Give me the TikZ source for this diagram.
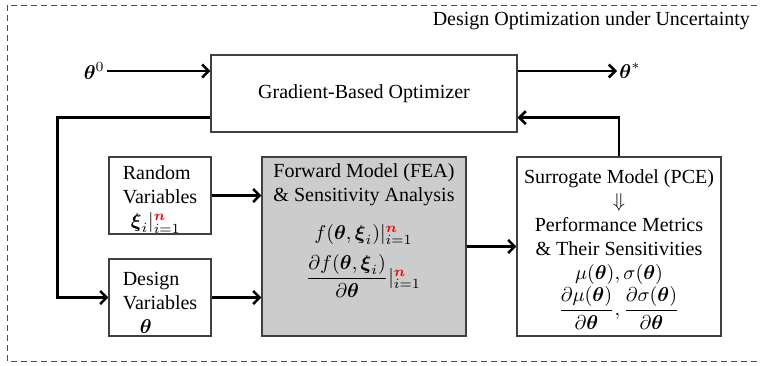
\documentclass[tikz,border=0pt]{standalone}
\usepackage{amsmath}
\usepackage[no-math]{fontspec}
\setmainfont{Liberation Serif}
\usetikzlibrary{positioning, arrows.meta}

\definecolor{fwdgray}{RGB}{204,204,204}
\newcommand{\bth}{\boldsymbol{\theta}}
\newcommand{\rn}{{\color{red}\boldsymbol{n}}}

\begin{document}
\begin{tikzpicture}[
            x = 0.5pt, y = -0.5pt,
            > = {Straight Barb[length=3.2pt, width=6.5pt]},
            on grid,
            block/.style = {draw=black!75, line width=0.6pt, minimum width=51pt, minimum height=38.5pt, inner sep=0pt},
            big/.style = {block, minimum width=102pt, minimum height=89.5pt},
            link/.style = {->, line width=1.3pt},
            frame/.style = {draw=black!70, line width=0.5pt, dash pattern=on 3pt off 2pt}
        ]

            \useasboundingbox (0,0) rectangle (761,365);

            % Frame
            \draw[frame] (7,5) rectangle (766,361);
            \node[anchor=east] (title) at (757,21) {Design Optimization under Uncertainty};

            % Blocks
            \node[block, minimum width=153pt] (opt) at (364,93.5) {Gradient-Based Optimizer};
            \node[big, fill=fwdgray, align=left] (fwd) [below=76.5pt of opt]
            {Forward Model (FEA)\\ \& Sensitivity Analysis\\[7pt]
             \makebox[90pt]{$f(\bth,\boldsymbol{\xi}_i)|_{i=1}^{\rn}$}\\[4pt]
             \makebox[90pt]{$\dfrac{\partial f(\bth,\boldsymbol{\xi}_i)}{\partial\bth}|_{i=1}^{\rn}$\rule[-23pt]{0pt}{0pt}}};
            \node[big, align=center] (sur) [right=127.5pt of fwd]
            {\rule{0pt}{10pt}Surrogate Model (PCE)\\ $\Downarrow$\\ Performance Metrics\\ \& Their Sensitivities\\
             $\mu(\bth),\sigma(\bth)$\\
             $\dfrac{\partial\mu(\bth)}{\partial\bth},\dfrac{\partial\sigma(\bth)}{\partial\bth}$};
            \node[block, align=left] (rand) [above left=25.5pt and 102pt of fwd]
            {\rule{0pt}{11pt}Random\\ Variables\\ \hspace*{4pt}$\boldsymbol{\xi}_i|_{i=1}^{\rn}$};
            \node[block, align=left] (des) [below=51pt of rand]
            {\rule{0pt}{12pt}Design\\ Variables\\ \hspace*{8.5pt}$\bth$};

            % Start and result
            \node[anchor=east, inner sep=1pt] (th0) at (107,71) {$\bth^0$};
            \node[anchor=west, inner sep=1pt] (thst) at (617,71) {$\bth^*$};

            % Connectors
            \draw[link] (th0) -- (th0 -| opt.west);
            \draw[link] (th0 -| opt.east) -- (thst);
            \draw[link] (sur.north) |- ([yshift=7.5pt]opt.south east);
            \draw[link] ([yshift=7.5pt]opt.south west) -| ([xshift=-25.5pt]des.west) -- (des.west);
            \draw[link] (rand) -- (rand -| fwd.west);
            \draw[link] (des) -- (des -| fwd.west);
            \draw[link] (fwd) -- (sur);

        \end{tikzpicture}
\end{document}
